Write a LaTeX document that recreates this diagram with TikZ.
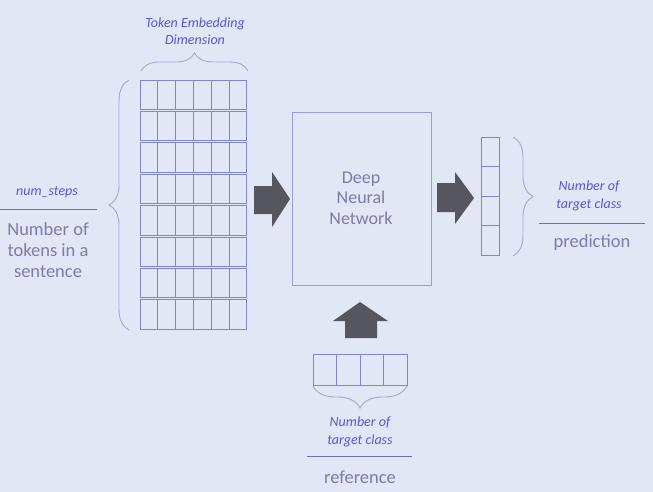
\documentclass[tikz,border=0pt]{standalone}
\usepackage{fontspec}
\setmainfont{Carlito}
\usetikzlibrary{decorations.pathreplacing}
\definecolor{bg}{HTML}{E2E7F5}
\definecolor{gridc}{HTML}{7F86D8}
\definecolor{itc}{HTML}{5858D2}
\definecolor{txt}{HTML}{7C7CA8}
\definecolor{arr}{HTML}{56565E}
\definecolor{brc}{HTML}{A4A8D2}
\definecolor{rulec}{HTML}{6A6EB0}
\begin{document}
\begin{tikzpicture}[x=1pt,y=-1pt,
  gcell/.style={draw=gridc, line width=0.9pt, inner sep=0pt, minimum width=17.8pt, minimum height=29.4pt},
  ocell/.style={draw=gridc, line width=0.9pt, inner sep=0pt, minimum width=18pt, minimum height=29.5pt},
  bcell/.style={draw=gridc, line width=0.9pt, inner sep=0pt, minimum width=23.5pt, minimum height=31pt},
  brc/.style={draw=brc, line width=0.9pt, decorate, decoration={brace, amplitude=#1}},
  itlabel/.style={text=itc, font=\fontsize{14}{17.5}\selectfont\itshape, align=center, inner sep=0pt},
  plain/.style={text=txt, font=\fontsize{18.5}{21}\selectfont, align=center, inner sep=0pt},
  blockarrow/.style={fill=arr},
  rulel/.style={draw=rulec, line width=1pt}]
\fill[bg] (0,0) rectangle (653,492);
\useasboundingbox (0,0) rectangle (653,492);

% embedding grid
\foreach \r in {0,...,7}{
  \foreach \c in {0,...,5}{
    \node[gcell] (g-\r-\c) at ({140+17.8*\c+8.9},{79+31.4*\r+15.7}) {};
  }
}

% top brace + label
\coordinate (tbL) at (141,71);
\coordinate (tbR) at (248,71);
\draw[brc=18pt] (tbL) -- (tbR);
\node[itlabel] (tok) at (195,31) {Token Embedding\\Dimension};

% left brace + labels
\coordinate (lbB) at (129,330);
\coordinate (lbT) at (129,80);
\draw[brc=20pt] (lbB) -- (lbT);
\node[itlabel] (ns) at (47,192) {num\_steps};
\coordinate (l1a) at (0,209);
\coordinate (l1b) at (97,209);
\draw[rulel] (l1a) -- (l1b);
\node[plain] (ntok) at (48,250) {Number of\\tokens in a\\sentence};

% arrow 1
\fill[blockarrow] (254,186) -- (272,186) -- (272,172) -- (290,199) -- (272,227) -- (272,214) -- (254,214) -- cycle;

% DNN box
\node[draw=gridc!80, line width=0.8pt, minimum width=139pt, minimum height=173pt, inner sep=0pt] (dnn) at (361.5,198.5) {};
\node[plain, font=\fontsize{18}{20.5}\selectfont] (dnnt) at (361,198) {Deep\\Neural\\Network};

% arrow 2
\fill[blockarrow] (437,183) -- (455,183) -- (455,172) -- (474,198) -- (455,224) -- (455,212) -- (437,212) -- cycle;

% output vector
\foreach \r in {0,...,3}{
  \node[ocell] (o-\r) at (490,{137+29.5*\r+14.75}) {};
}
\coordinate (rbT) at (513,137);
\coordinate (rbB) at (513,256);
\draw[brc=20pt] (rbT) -- (rbB);
\node[itlabel] (ntc1) at (589,196) {Number of\\target class};
\coordinate (r1a) at (539,223);
\coordinate (r1b) at (645,223);
\draw[rulel] (r1a) -- (r1b);
\node[plain] (pred) at (592,243) {prediction};

% up arrow
\fill[blockarrow] (345,338) -- (345,321) -- (333,321) -- (360,302) -- (388,321) -- (377,321) -- (377,338) -- cycle;

% bottom vector
\foreach \c in {0,...,3}{
  \node[bcell] (b-\c) at ({313+23.5*\c+11.75},369.5) {};
}
\coordinate (bbR) at (407,386);
\coordinate (bbL) at (313,386);
\draw[brc=22pt] (bbR) -- (bbL);
\node[itlabel] (ntc2) at (360,432) {Number of\\target class};
\coordinate (b1a) at (307,456);
\coordinate (b1b) at (412,456);
\draw[rulel] (b1a) -- (b1b);
\node[plain] (ref) at (360,477) {reference};
\end{tikzpicture}
\end{document}
